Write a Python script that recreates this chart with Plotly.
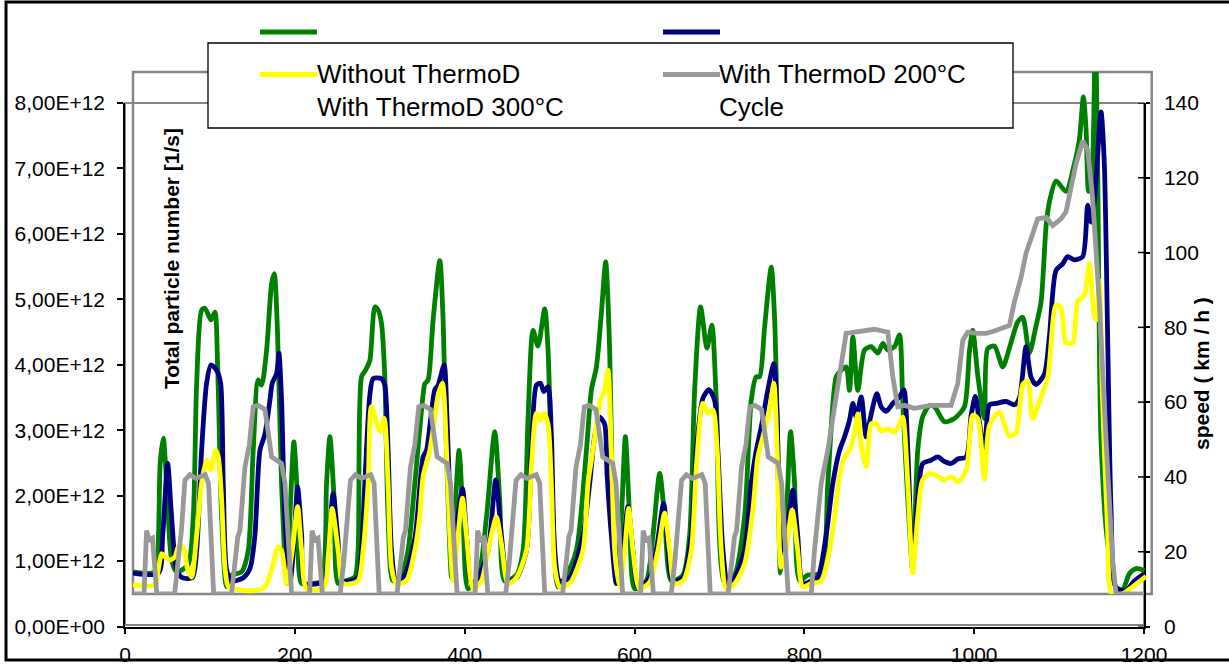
import plotly.graph_objects as go
import numpy as np

W, H = 1229, 665
FONT = "Arial, Liberation Sans, sans-serif"

# ---------------- data ----------------
# particle numbers in units of 1E12 1/s, time in s
green_t = [0, 26, 30, 32, 35.7, 39.6, 45.5, 51.4, 65, 71, 75, 80.8, 84.8, 91.8, 96.5, 99.7, 104.4, 110.3, 116.2, 128,
           135.8, 141.6, 147.5, 151.5, 157.4, 163.3, 166.4, 170.3, 175, 181, 184.8, 189.5, 193.9, 198.6, 210, 222, 228,
           231.9, 237, 241.7, 250, 261.3, 265.2, 269.2, 273.9, 279, 284.9, 288.8, 292.7, 296.6, 300.5, 306.4, 316.3,
           324, 332, 341.7, 343.7, 347.6, 353.5, 361.4, 365.3, 369.3, 375.2, 379, 384.1, 388.8, 394.7, 406.5, 416.4,
           426.1, 432, 437.9, 451.7, 459.5, 465.4, 471.2, 477.1, 485, 488.9, 494.8, 500.7, 510.5, 522.3, 534.1, 540,
           545.9, 551.7, 556.8, 561.5, 565.4, 569.4, 575.3, 580, 585, 591, 604.7, 612.5, 620.4, 626.3, 634.1, 647.8,
           655.7, 661.6, 668.6, 676.1, 681.9, 687.1, 696.9, 708.7, 720.4, 728.3, 734.2, 738.1, 744, 751.8, 755.7,
           759.6, 762.8, 769.5, 774.6, 779.3, 785.2, 795, 810.7, 818.5, 828.4, 834.3, 840.1, 844, 848, 853.8, 861.7,
           869.6, 877.4, 883.3, 889.2, 897, 902.9, 906.8, 912.7, 918.5, 924.4, 930.3, 938.2, 944.1, 955.9, 967.6,
           979.4, 985.3, 989.2, 995.1, 1003, 1006.8, 1014.7, 1024.5, 1032.4, 1042.2, 1048.1, 1055.9, 1063.8, 1069.7,
           1075.6, 1079.5, 1087.3, 1099.1, 1108.9, 1114.8, 1119.5, 1122.7, 1125.7, 1129.3, 1133.6, 1136.3, 1140.3,
           1148.1, 1158, 1165.8, 1173.6, 1181.5, 1191.3]
green_v = [0.34, 0.34, 0.9, 2.0, 2.39, 1.7, 0.52, 0.34, 0.45, 1.18, 3.23, 4.35, 4.38, 4.2, 4.32, 3.48, 1.18, 0.11, 0.29, 0.34,
           0.67, 2.2, 3.28, 3.2, 3.74, 4.76, 4.91, 3.99, 1.7, 0.16, 1.18, 2.33, 1.44, 0.16, 0.16, 0.2, 1.7,
           2.41, 1.44, 0.16, 0.2, 0.26, 0.67, 3.33, 3.43, 3.58, 4.4, 4.35, 4.15, 3.33, 1.18, 0.2, 0.29,
           0.67, 1.7, 3.05, 3.22, 3.28, 4.2, 5.11, 4.2, 2.2, 0.25, 1.18, 2.2, 1.18, 0.08, 0.25, 1.18,
           2.49, 1.44, 0.2, 0.29, 0.67, 2.71, 4.04, 3.8, 4.37, 3.74, 1.18, 0.11, 0.29, 0.67, 2.2, 3.13,
           3.48, 4.3, 5.09, 3.74, 1.18, 0.16, 1.18, 2.41, 1.18, 0.08, 0.2, 0.9, 1.85, 1.18, 0.2, 0.29,
           0.9, 3.13, 4.4, 3.77, 4.12, 2.97, 0.16, 0.29, 1.18, 2.97, 3.33, 3.33, 4.09, 5.01, 4.25,
           2.2, 0.32, 1.18, 2.49, 1.7, 0.21, 0.29, 0.32, 1.7, 3.33, 3.43, 3.48, 3.12, 3.94, 3.12, 3.74,
           3.79, 3.69, 3.84, 3.74, 3.79, 3.97, 2.92, 1.44, 0.37, 2.2, 2.72, 2.89, 2.87, 2.64, 2.69,
           2.87, 3.72, 4.04, 3.35, 2.69, 3.76, 3.8, 3.48, 3.77, 4.17, 4.24, 3.69, 4.11, 4.48,
           5.64, 6.01, 6.33, 6.17, 6.59, 6.96, 7.62, 7.12, 6.17, 6.33, 8.6, 6.59, 2.37,
           0.78, 0.1, 0.07, 0.31, 0.39, 0.36]

navy_t = [0, 30, 35, 40.8, 45.5, 51.4, 58, 70, 75, 80.8, 86.7, 91.8, 98.5, 103.2, 106.3, 110.3, 116, 130, 138, 143.6,
          149.5, 155.4, 161.3, 164, 169.2, 171.9, 175, 178.9, 184.8, 189, 193.9, 198.6, 202.5, 225, 230, 235.8, 241,
          247.6, 265, 269, 273.1, 279, 282.9, 292.7, 296.6, 300.5, 304.5, 310, 320, 332, 341.7, 345.7, 355.5, 359.4,
          366.5, 369.8, 374, 376, 380, 388.1, 392.8, 398.7, 406.5, 418.3, 427.3, 434, 441.8, 452, 463.5, 469.3,
          475.2, 480, 484, 488.9, 492.8, 496.8, 502.6, 514.4, 530.1, 538, 543.8, 549.7, 555.6, 558.4, 563.5, 569.4,
          577, 583, 588.9, 594.8, 608.6, 616.4, 625.1, 630, 636, 647.8, 657.7, 663.6, 671.3, 678.4, 685.1, 689,
          694.9, 700.8, 708.7, 720.4, 728.3, 734.2, 740.1, 747.9, 754.9, 758.8, 763.5, 769.3, 777.3, 783, 789,
          798.8, 806.6, 816.5, 824.4, 832.3, 838.2, 844, 848, 852, 857.8, 863.7, 869.6, 876.2, 881.3, 887.2, 895,
          902.9, 908, 912.7, 918.5, 924.4, 930.3, 940, 948, 955.9, 963.7, 971.6, 981.4, 987.3, 992.3, 997, 1003,
          1008.8, 1016.7, 1028.5, 1038.3, 1044.1, 1052, 1057.9, 1063.8, 1073.6, 1079.5, 1087.3, 1095.1, 1101,
          1108.9, 1118.7, 1124.6, 1128.5, 1133, 1140.3, 1144.2, 1148.1, 1152.1, 1158, 1169.7, 1179.5, 1191.3]
navy_v = [0.32, 0.32, 0.9, 2.0, 1.18, 0.37, 0.25, 0.25, 0.67, 2.2, 3.23, 3.51, 3.43, 3.23, 1.7, 0.37, 0.2, 0.25, 0.4, 0.9,
          2.2, 2.45, 2.97, 3.23, 3.38, 3.69, 2.97, 1.18, 0.16, 0.67, 1.64, 0.9, 0.16, 0.2, 0.7, 1.54, 0.9,
          0.2, 0.25, 0.6, 1.7, 3.05, 3.3, 3.3, 3.2, 2.2, 0.67, 0.2, 0.29, 0.85, 2.1, 2.2, 3.13, 3.2,
          3.51, 2.71, 1.18, 0.41, 0.9, 1.62, 0.9, 0.16, 0.25, 0.67, 1.75, 0.9, 0.2, 0.25, 0.67, 2.2,
          3.2, 3.23, 3.1, 3.18, 2.45, 0.67, 0.2, 0.25, 0.9, 1.7, 2.41, 2.71, 2.6, 1.85, 0.9, 0.16,
          0.67, 1.34, 0.67, 0.11, 0.25, 0.67, 1.39, 0.74, 0.2, 0.25, 0.9, 2.2, 3.0, 3.13, 2.97, 2.2,
          0.67, 0.16, 0.25, 0.67, 1.7, 2.2, 2.56, 3.13, 3.53, 2.71, 0.67, 0.9, 1.59, 0.9, 0.16,
          0.2, 0.25, 0.9, 1.7, 2.2, 2.41, 2.66, 2.92, 2.71, 3.02, 2.41, 2.76, 3.07, 2.87, 2.8, 2.92,
          3.02, 3.13, 2.2, 0.41, 1.44, 2.0, 2.05, 2.1, 2.03, 2.0, 2.07, 2.1, 2.74, 3.03, 2.63, 2.16,
          2.9, 2.92, 2.95, 2.9, 3.0, 3.79, 3.32, 3.21, 3.37, 3.95, 4.96, 5.06, 5.17,
          5.12, 5.17, 5.96, 5.7, 6.1, 7.39, 6.59, 3.95, 1.31, 0.1, 0.05, 0.2, 0.31]

yellow_t = [0, 26, 29.8, 33.8, 37.7, 43.6, 49.5, 53.4, 59.2, 64, 69, 75, 80.8, 86.7, 91.8, 97.3, 100.5, 104.4, 108.3,
            112.3, 120, 140, 155, 163.3, 171, 175, 181, 188, 193.9, 198.6, 204.5, 225, 230, 234.6, 241.7, 247.6, 265,
            271.1, 277, 280.9, 290.8, 295.9, 300.5, 304.5, 310, 322, 332, 337.8, 341.7, 349.6, 355.5, 359.4, 364.5,
            369.3, 373.2, 377, 382.9, 388.1, 392.8, 400.7, 410.5, 418.3, 428.1, 434, 441.8, 451.7, 463.5, 469.3,
            475.2, 480, 484, 488.9, 492.8, 496.8, 502.6, 514.4, 530.1, 536, 541.8, 549.7, 555.6, 559.5, 563.5, 567.4,
            573.3, 579.2, 583.9, 588.9, 596.7, 608.6, 618.4, 626.3, 632.1, 638, 647.8, 657.7, 663.6, 671.3, 677.2,
            683.1, 688.2, 693, 698.9, 708.7, 720.4, 730.2, 736.1, 742, 749.9, 754.9, 758.8, 763.5, 769.3, 776.5, 783,
            789, 798.8, 810.6, 820.5, 826.4, 832.3, 838.2, 844, 849, 853.8, 858.6, 863.7, 869.6, 875.4, 881.3, 889.2,
            897, 902.9, 906.8, 912.7, 918.5, 924.4, 930.3, 940, 948, 955.9, 963.7, 971.6, 981.4, 989.2, 995.1, 1003,
            1008.8, 1020.6, 1032.4, 1040.2, 1048.1, 1054, 1059.8, 1067.7, 1077.5, 1087.3, 1093.2, 1099.1, 1107,
            1112.8, 1120.7, 1126.6, 1132.4, 1135, 1138.5, 1142, 1148, 1153, 1165, 1177.5, 1193.3]
yellow_v = [0.14, 0.14, 0.37, 0.62, 0.57, 0.52, 0.57, 0.72, 0.72, 0.4, 0.26, 0.9, 1.7, 2.05, 1.9, 2.2, 2.1, 1.44, 0.41,
            0.11, 0.08, 0.05, 0.1, 0.37, 0.72, 0.67, 0.16, 0.7, 1.34, 0.67, 0.08, 0.1, 0.6, 1.31, 0.67, 0.16, 0.2,
            0.67, 1.7, 2.87, 2.49, 2.69, 1.7, 0.41, 0.16, 0.2, 0.67, 1.2, 1.8, 2.2, 2.71, 3.05, 3.23,
            2.2, 0.9, 0.2, 0.9, 1.47, 0.9, 0.08, 0.2, 0.67, 1.18, 0.77, 0.16, 0.25, 0.67, 1.95,
            2.77, 2.66, 2.77, 2.6, 1.7, 0.41, 0.11, 0.16, 0.67, 1.7, 2.2, 2.92, 3.13, 3.43, 2.2, 0.67,
            0.11, 0.67, 1.31, 0.67, 0.08, 0.18, 0.67, 1.24, 0.67, 0.16, 0.2, 0.67, 1.95, 2.92, 2.77,
            2.82, 2.2, 0.67, 0.08, 0.16, 0.46, 1.29, 2.1, 2.41, 2.82, 3.23, 2.2, 0.41, 0.67, 1.29, 0.67,
            0.11, 0.16, 0.2, 0.67, 1.18, 1.8, 2.1, 2.2, 2.41, 2.76, 2.2, 1.95, 2.61, 2.61, 2.5, 2.53,
            2.48, 2.6, 2.71, 1.7, 0.32, 1.18, 1.75, 1.85, 1.8, 1.75, 1.8, 1.72, 1.89, 2.74, 2.69, 1.76,
            2.58, 2.79, 2.42, 2.47, 3.21, 3.27, 2.69, 2.95, 3.32, 4.43, 4.38, 3.85, 3.85,
            4.48, 4.58, 5.06, 4.27, 4.2, 4.8, 3.0, 1.0, 0.0, 0.0, 0.11, 0.27]

# driving cycle speed, km/h
cycle_t = [0, 13, 16, 19, 23, 28, 49, 53, 55.3, 57, 61.2, 67, 74, 85, 89, 95, 116, 121, 123.5, 126, 131.8, 137, 141.6,
           147.5, 155.4, 163.3, 175, 179, 186.8,
           208, 211, 214, 218, 223, 244, 248, 250.3, 252, 256.2, 262, 269, 280, 284, 290, 311, 316, 318.5, 321, 326.8,
           332, 336.6, 342.5, 350.4, 358.3, 370, 374, 381.8,
           403, 406, 409, 413, 418, 439, 443, 445.3, 447, 451.2, 457, 464, 475, 479, 485, 506, 511, 513.5, 516, 521.8,
           527, 531.6, 537.5, 545.4, 553.3, 565, 569, 576.8,
           598, 601, 604, 608, 613, 634, 638, 640.3, 642, 646.2, 652, 659, 670, 674, 680, 701, 706, 708.5, 711, 716.8,
           722, 726.6, 732.5, 740.4, 748.3, 760, 764, 771.8,
           799, 802.8, 810.7, 818.5, 826.4, 834.3, 840.1, 848, 873.4, 889.2, 895, 900.9, 908.7, 920.5, 940, 963.7,
           971.6, 977.5, 983.3, 995, 1004.9, 1012.8, 1026.5, 1032.4, 1038.3, 1046.1, 1052, 1059.8, 1065.7, 1075.6,
           1083.4, 1093.2, 1099.1, 1105, 1110.9, 1118.7, 1124.6, 1130.4, 1138.3, 1146.2, 1154, 1158, 1191]
cycle_v = [0, 0, 17, 14.5, 15, 0, 0, 8, 15.4, 17, 30.5, 32, 31, 32, 29.7, 0, 0, 10, 15.4, 17, 34, 40, 50.2,
           50.6, 49.5, 36.8, 35, 29.7, 0,
           0, 17, 14.5, 15, 0, 0, 8, 15.4, 17, 30.5, 32, 31, 32, 29.7, 0, 0, 10, 15.4, 17, 34,
           40, 50.2, 50.6, 49.5, 36.8, 35, 29.7, 0,
           0, 17, 14.5, 15, 0, 0, 8, 15.4, 17, 30.5, 32, 31, 32, 29.7, 0, 0, 10, 15.4, 17, 34,
           40, 50.2, 50.6, 49.5, 36.8, 35, 29.7, 0,
           0, 17, 14.5, 15, 0, 0, 8, 15.4, 17, 30.5, 32, 31, 32, 29.7, 0, 0, 10, 15.4, 17, 34,
           40, 50.2, 50.6, 49.5, 36.8, 35, 29.7, 0,
           0, 11.8, 29.7, 38.6, 50.2, 62.7, 69.9, 70.2, 71, 70.2, 58.3, 50.2, 50.6, 49.8, 50.6, 50.6,
           56.5, 68.1, 70.2, 69.9, 69.9, 70.4, 71.3, 72, 78.4, 84.9, 91.4, 96.9, 100.6, 101,
           98.8, 100.6, 102.5, 109, 115.4, 121.5, 119.1, 106.2, 78.4, 41.5, 9.1, 0, 0]

series_names = ["Without ThermoD", "With ThermoD 200°C", "With ThermoD 300°C", "Cycle"]
series_colors = ["#008000", "#000080", "#FFFF00", "#999999"]

x_ticks = [0, 200, 400, 600, 800, 1000, 1200]
y_ticks = [0, 1e12, 2e12, 3e12, 4e12, 5e12, 6e12, 7e12, 8e12]
y_ticktext = ["0,00E+00", "1,00E+12", "2,00E+12", "3,00E+12", "4,00E+12",
              "5,00E+12", "6,00E+12", "7,00E+12", "8,00E+12"]
y2_ticks = [0, 20, 40, 60, 80, 100, 120, 140]

# ---------------- helpers ----------------
def px(x):
    return x / W

def py(y):
    return 1 - y / H

fig = go.Figure()

pn = [np.array(green_v) * 1e12, np.array(navy_v) * 1e12, np.array(yellow_v) * 1e12]
pt = [green_t, navy_t, yellow_t]
for i in range(3):
    fig.add_trace(go.Scatter(x=pt[i], y=pn[i], mode="lines", name=series_names[i],
                             line=dict(color=series_colors[i], width=4.8, shape="spline", smoothing=0.7),
                             xaxis="x2", yaxis="y3", showlegend=False, hoverinfo="skip"))
fig.add_trace(go.Scatter(x=cycle_t, y=cycle_v, mode="lines", name=series_names[3],
                         line=dict(color=series_colors[3], width=4.8),
                         xaxis="x2", yaxis="y4", showlegend=False, hoverinfo="skip"))
# anchor traces for the visible axes
fig.add_trace(go.Scatter(x=[None], y=[None], xaxis="x", yaxis="y", showlegend=False, hoverinfo="skip"))
fig.add_trace(go.Scatter(x=[None], y=[None], xaxis="x", yaxis="y2", showlegend=False, hoverinfo="skip"))

tickfont = dict(family=FONT, size=21, color="black")
axis_common = dict(showgrid=False, zeroline=False, showline=True, linecolor="black", linewidth=1.5,
                   ticks="outside", tickcolor="black", tickwidth=1.5, tickfont=tickfont, automargin=False)

X0, X1 = 125, 1144
YT, YB = 103, 626.5
fig.update_layout(
    template="none",
    width=W, height=H,
    margin=dict(l=0, r=0, t=0, b=0, pad=0, autoexpand=False),
    paper_bgcolor="white", plot_bgcolor="rgba(0,0,0,0)",
    showlegend=False,
    xaxis=dict(domain=[px(X0), px(X1)], range=[0, 1200], tickvals=x_ticks, ticklen=6,
               anchor="y", ticklabelstandoff=3, **axis_common),
    yaxis=dict(domain=[py(YB), py(YT)], range=[0, 8e12], tickvals=y_ticks, ticktext=y_ticktext,
               ticklen=6, anchor="x", ticklabelstandoff=8, **axis_common),
    yaxis2=dict(overlaying="y", side="right", range=[0, 140], tickvals=y2_ticks, ticklen=4,
                anchor="x", ticklabelstandoff=10, **axis_common),
    xaxis2=dict(domain=[px(133), px(1151.7)], range=[0, 1200], visible=False, anchor="y3", automargin=False),
    yaxis3=dict(domain=[py(594), py(72)], range=[0, 8e12], visible=False, anchor="x2", automargin=False),
    yaxis4=dict(overlaying="y3", range=[0, 140], visible=False, anchor="x2", automargin=False),
)

shapes = []
# plot-area frames (gray)
shapes.append(dict(type="rect", xref="paper", yref="paper", x0=px(133), x1=px(1151.7), y0=py(594), y1=py(72),
                   line=dict(color="#868686", width=2.5), layer="below"))
shapes.append(dict(type="rect", xref="paper", yref="paper", x0=px(X0), x1=px(X1), y0=py(625), y1=py(YT),
                   line=dict(color="#868686", width=2), layer="below"))
# inner halves of the right-axis ticks
for v in y2_ticks:
    shapes.append(dict(type="line", xref="paper", yref="y2", x0=px(1138), x1=px(X1), y0=v, y1=v,
                       line=dict(color="black", width=1.5), layer="above"))
# legend box
shapes.append(dict(type="rect", xref="paper", yref="paper", x0=px(208), x1=px(1013), y0=py(128), y1=py(43),
                   fillcolor="white", line=dict(color="black", width=1.3), layer="above"))
# legend line samples
legend_samples = [(260, 317, 32, series_colors[0]), (663, 720, 32, series_colors[1]),
                  (260, 317, 74.5, series_colors[2]), (663, 720, 74.5, series_colors[3])]
for x0, x1, yy, c in legend_samples:
    shapes.append(dict(type="line", xref="paper", yref="paper", x0=px(x0), x1=px(x1), y0=py(yy), y1=py(yy),
                       line=dict(color=c, width=5), layer="above"))
# outer chart border
shapes.append(dict(type="rect", xref="paper", yref="paper", x0=px(6), x1=px(1300), y0=py(660), y1=py(2),
                   line=dict(color="black", width=3), layer="above"))
fig.update_layout(shapes=shapes)

legfont = dict(family=FONT, size=26, color="black")
annotations = [
    dict(text=series_names[0], x=px(315), y=py(74), xref="paper", yref="paper", xanchor="left",
         yanchor="middle", showarrow=False, font=legfont),
    dict(text=series_names[1], x=px(717), y=py(74), xref="paper", yref="paper", xanchor="left",
         yanchor="middle", showarrow=False, font=legfont),
    dict(text=series_names[2], x=px(315), y=py(107), xref="paper", yref="paper", xanchor="left",
         yanchor="middle", showarrow=False, font=legfont),
    dict(text=series_names[3], x=px(717), y=py(107), xref="paper", yref="paper", xanchor="left",
         yanchor="middle", showarrow=False, font=legfont),
    dict(text="<b>Total particle number [1/s]</b>", x=px(171), y=py(259), xref="paper", yref="paper",
         textangle=-90, showarrow=False, xanchor="center", yanchor="middle",
         font=dict(family=FONT, size=21, color="black")),
    dict(text="<b>speed ( km / h )</b>", x=px(1201), y=py(374), xref="paper", yref="paper",
         textangle=-90, showarrow=False, xanchor="center", yanchor="middle",
         font=dict(family=FONT, size=21, color="black")),
]
fig.update_layout(annotations=annotations)

fig.write_html("out.html")
